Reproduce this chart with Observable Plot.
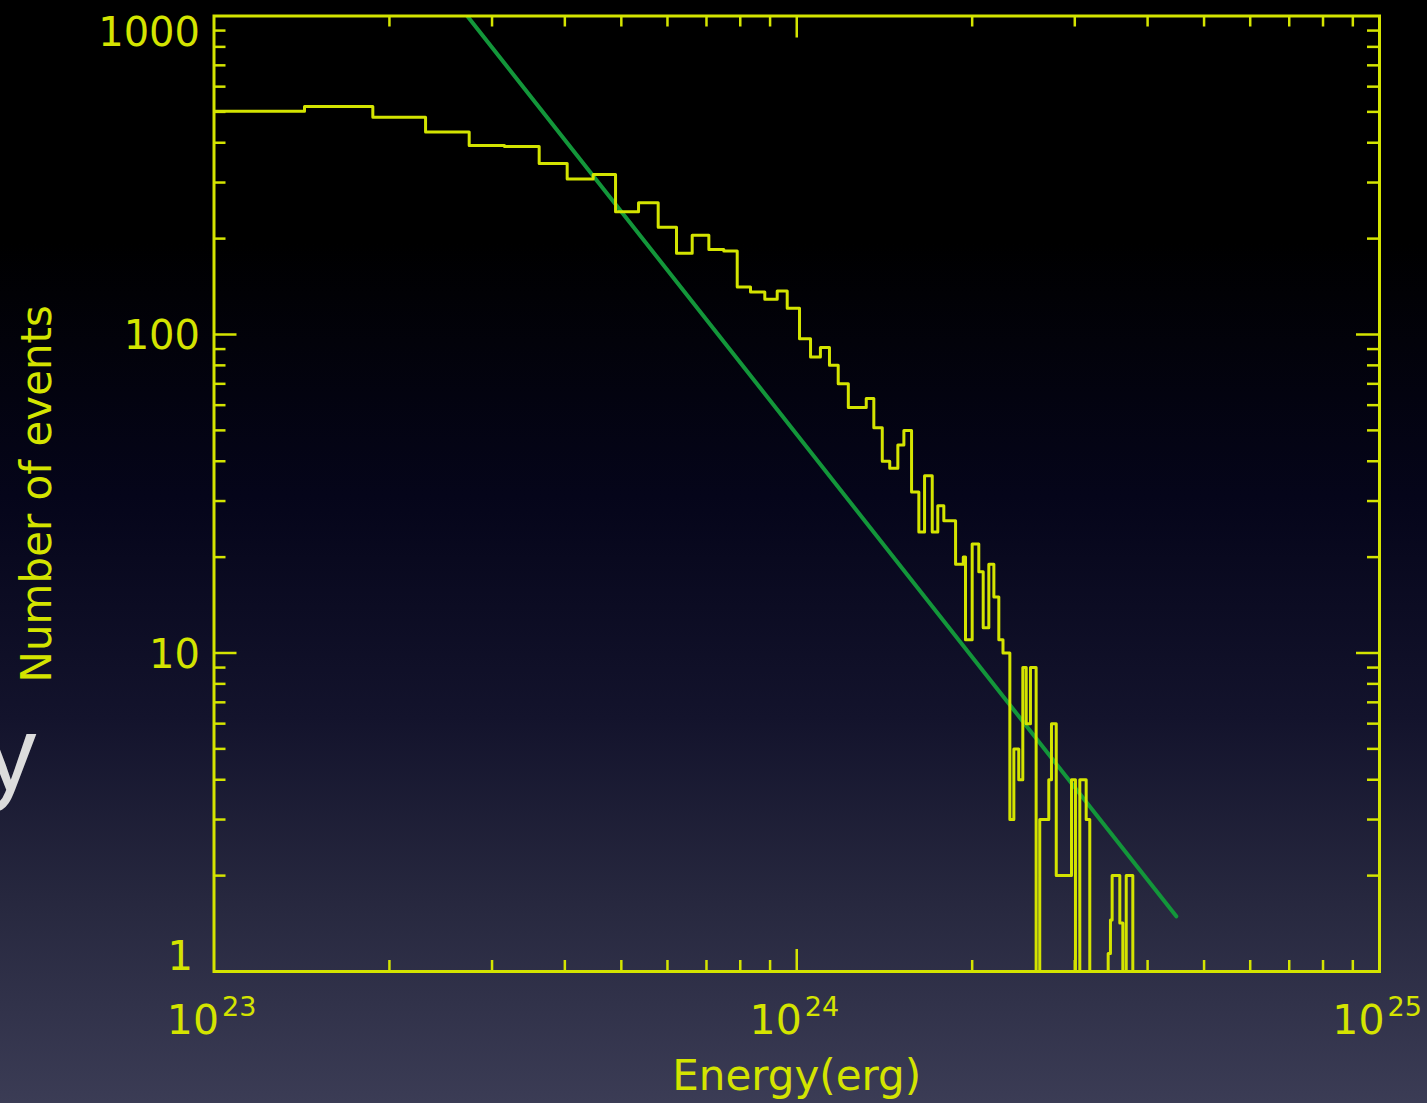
<!DOCTYPE html>
<html>
<head>
<meta charset="utf-8">
<script src="https://cdn.jsdelivr.net/npm/d3@7"></script>
<script src="https://cdn.jsdelivr.net/npm/@observablehq/plot@0.6"></script>
<style>
  html, body { margin: 0; padding: 0; }
  body {
    width: 1427px; height: 1103px; overflow: hidden; position: relative;
    background: linear-gradient(to bottom, #000000 0%, #000000 22%, #05051a 45%, #13132c 65%, #27283f 82%, #3b3c55 100%);
  }
  #slide-y {
    position: absolute; left: -16px; top: 701px;
    font-family: "Liberation Sans", "DejaVu Sans", sans-serif;
    font-size: 105px; line-height: 1; color: #dcdcdc;
  }
  #chart { position: absolute; left: 0; top: 0; }
</style>
</head>
<body>
<div id="slide-y">y</div>
<div id="chart"></div>
<script>
// Histogram step edges (erg) and counts
const energyEdges = [
  1.000e23, 1.430e23, 1.873e23, 2.307e23, 2.741e23, 3.151e23, 3.614e23, 4.037e23, 4.474e23, 4.887e23,
  5.352e23, 5.784e23, 6.218e23, 6.616e23, 7.066e23, 7.496e23, 7.904e23, 8.330e23, 8.814e23, 9.257e23,
  9.630e23, 1.011e24, 1.056e24, 1.098e24, 1.138e24, 1.178e24, 1.226e24, 1.316e24, 1.356e24, 1.402e24,
  1.444e24, 1.491e24, 1.527e24, 1.574e24, 1.620e24, 1.657e24, 1.708e24, 1.746e24, 1.788e24, 1.873e24,
  1.931e24, 1.948e24, 2.000e24, 2.053e24, 2.089e24, 2.136e24, 2.179e24, 2.222e24, 2.259e24, 2.321e24,
  2.358e24, 2.404e24, 2.443e24, 2.476e24, 2.518e24, 2.575e24, 2.612e24, 2.707e24, 2.736e24, 2.788e24,
  2.961e24, 3.008e24, 3.060e24, 3.138e24, 3.183e24, 3.423e24, 3.454e24, 3.477e24, 3.584e24, 3.627e24,
  3.676e24, 3.773e24, 3.813e24
];
const eventCounts = [
  502, 520, 481, 432, 392, 389, 344, 308, 318, 243,
  259, 217, 180, 205, 185, 183, 141, 136, 129, 137,
  121, 97, 85, 91, 80, 70, 59, 63, 51, 40,
  38, 45, 50, 32, 24, 36, 24, 29, 26, 19,
  20, 11, 22, 18, 12, 19, 15, 11, 10, 3,
  5, 4, 9, 6, 9, 1, 3, 4, 6, 2,
  4, 1, 4, 3, 1, 1.14, 1.45, 2, 1.42, 1,
  2, 1
];
// Power-law fit line endpoints
const fitEnergy = [2.72e23, 4.48e24];
const fitCount = [1000, 1.49];

// Ticks and labels
const xMinorTicks = [2e23, 3e23, 4e23, 5e23, 6e23, 7e23, 8e23, 9e23, 2e24, 3e24, 4e24, 5e24, 6e24, 7e24, 8e24, 9e24];
const xMajorTicks = [1e24];
const xLabelValues = [1e23, 1e24, 1e25];
const xLabelExponents = ["23", "24", "25"];
const yMinorTicks = [2, 3, 4, 5, 6, 7, 8, 9, 20, 30, 40, 50, 60, 70, 80, 90, 200, 300, 400, 500, 600, 700, 800, 900];
const yMajorTicks = [10, 100];
const yLabelValues = [1, 10, 100, 1000];
const yLabelTexts = ["1", "10", "100", "1000"];
const xTitle = "Energy(erg)";
const yTitle = "Number of events";

const steps = energyEdges.map((e, i) => ({e, n: eventCounts[Math.min(i, eventCounts.length - 1)]}));
const fit = fitEnergy.map((e, i) => ({e, n: fitCount[i]}));
const yLabels = yLabelValues.map((v, i) => ({v, t: yLabelTexts[i]}));
const xLabels = xLabelValues.map((v, i) => ({v, t: xLabelExponents[i]}));

const W = 1427, H = 1103;
const mL = 213.5, mR = 48, mT = 15.5, mB = 132;
const innerW = W - mL - mR, innerH = H - mT - mB;
const yellow = "#d4e400";
const green = "#13963a";
const font = "DejaVu Sans, sans-serif";

const chart = Plot.plot({
  width: W, height: H,
  marginLeft: mL, marginRight: mR, marginTop: mT, marginBottom: mB,
  style: {background: "transparent", fontFamily: font, overflow: "visible"},
  x: {type: "log", domain: [1e23, 1e25], axis: null},
  y: {type: "log", domain: [1, 1000], axis: null},
  marks: [
    Plot.line(fit, {x: "e", y: "n", stroke: green, strokeWidth: 4, clip: true}),
    Plot.line(steps, {x: "e", y: "n", curve: "step-after", stroke: yellow, strokeWidth: 3, clip: true}),
    // ticks (inward)
    Plot.tickX(xMinorTicks, {x: d => d, stroke: yellow, strokeWidth: 2.5, insetTop: innerH - 11}),
    Plot.tickX(xMinorTicks, {x: d => d, stroke: yellow, strokeWidth: 2.5, insetBottom: innerH - 11}),
    Plot.tickX(xMajorTicks, {x: d => d, stroke: yellow, strokeWidth: 2.5, insetTop: innerH - 22}),
    Plot.tickX(xMajorTicks, {x: d => d, stroke: yellow, strokeWidth: 2.5, insetBottom: innerH - 22}),
    Plot.tickY(yMinorTicks, {y: d => d, stroke: yellow, strokeWidth: 2.5, insetRight: innerW - 12}),
    Plot.tickY(yMinorTicks, {y: d => d, stroke: yellow, strokeWidth: 2.5, insetLeft: innerW - 12}),
    Plot.tickY(yMajorTicks, {y: d => d, stroke: yellow, strokeWidth: 2.5, insetRight: innerW - 23}),
    Plot.tickY(yMajorTicks, {y: d => d, stroke: yellow, strokeWidth: 2.5, insetLeft: innerW - 23}),
    Plot.frame({stroke: yellow, strokeWidth: 3}),
    // y tick labels
    Plot.text(yLabels.filter(d => d.v > 1 && d.v < 1000), {y: "v", text: "t", frameAnchor: "left", textAnchor: "end", dx: -14, dy: 2, fill: yellow, fontSize: 40, lineAnchor: "middle"}),
    Plot.text(yLabels.filter(d => d.v === 1000), {y: "v", text: "t", frameAnchor: "left", textAnchor: "end", dx: -14, dy: 17, fill: yellow, fontSize: 40, lineAnchor: "middle"}),
    Plot.text(yLabels.filter(d => d.v === 1), {y: "v", text: "t", frameAnchor: "left", textAnchor: "end", dx: -21, dy: -14, fill: yellow, fontSize: 40, lineAnchor: "middle"}),
    // x tick labels: "10" with superscript exponent
    Plot.text(xLabels, {x: "v", text: () => "10", frameAnchor: "bottom", textAnchor: "end", dx: 5, dy: 49, fill: yellow, fontSize: 41, lineAnchor: "middle"}),
    Plot.text(xLabels, {x: "v", text: "t", frameAnchor: "bottom", textAnchor: "start", dx: 8, dy: 36, fill: yellow, fontSize: 27, lineAnchor: "middle"}),
    // axis titles
    Plot.text([xTitle], {text: d => d, frameAnchor: "bottom", textAnchor: "middle", dy: 105, fill: yellow, fontSize: 42, lineAnchor: "middle"}),
    Plot.text([yTitle], {text: d => d, frameAnchor: "left", textAnchor: "middle", dx: -176, rotate: -90, fill: yellow, fontSize: 42, lineAnchor: "middle"})
  ]
});
document.getElementById("chart").appendChild(chart);
</script>
</body>
</html>
